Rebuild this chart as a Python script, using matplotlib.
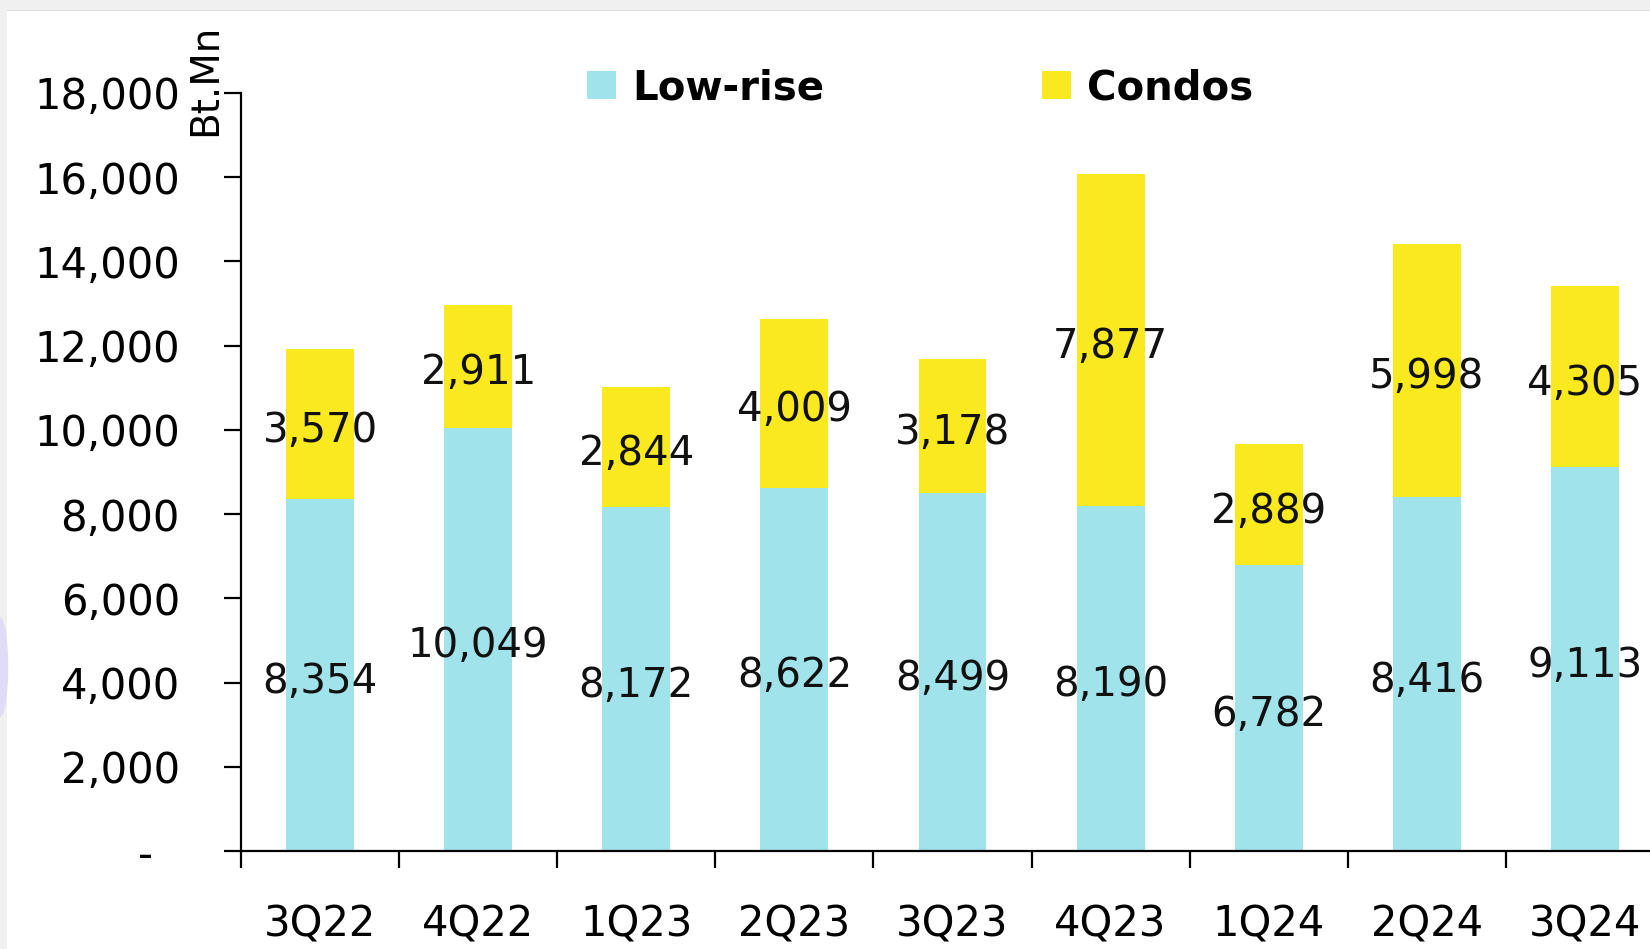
import matplotlib
matplotlib.use("Agg")
import matplotlib.pyplot as plt
from matplotlib.patches import Rectangle, Ellipse
from matplotlib.ticker import FuncFormatter, FixedLocator

# quarters and values (Bt.Mn)
quarters = ['3Q22', '4Q22', '1Q23', '2Q23', '3Q23', '4Q23', '1Q24', '2Q24', '3Q24']
low_rise = [8354, 10049, 8172, 8622, 8499, 8190, 6782, 8416, 9113]
condos = [3570, 2911, 2844, 4009, 3178, 7877, 2889, 5998, 4305]

LOW_COLOR = '#a0e3ea'
CONDO_COLOR = '#f9e91e'
FONT = 'DejaVu Sans'

fig = plt.figure(figsize=(16.5, 9.49), dpi=100)
fig.patch.set_facecolor('white')

# page background bits (gray frame at top/left, faint decoration)
fig.patches.append(Rectangle((0, 0.989), 1, 0.011, transform=fig.transFigure,
                             facecolor='#f0f0f0', edgecolor='none', zorder=1))
fig.patches.append(Rectangle((0, 0.988), 1, 0.0015, transform=fig.transFigure,
                             facecolor='#dcdcdc', edgecolor='none', zorder=1))
fig.patches.append(Rectangle((0, 0), 0.0042, 1, transform=fig.transFigure,
                             facecolor='#f0f0f0', edgecolor='none', zorder=1))
fig.patches.append(Ellipse((0.0, 0.297), 0.01, 0.105, transform=fig.transFigure,
                           facecolor='#e0dcf7', edgecolor='none', zorder=2))

# axes extends past the right edge (reference is cropped)
ax = fig.add_axes([241 / 1650, 98 / 949, 1423 / 1650, 758 / 949])
ax.set_facecolor('none')

x = list(range(len(quarters)))
width = 0.43
ax.bar(x, low_rise, width, color=LOW_COLOR, label='Low-rise', zorder=2)
ax.bar(x, condos, width, bottom=low_rise, color=CONDO_COLOR, label='Condos', zorder=2)

# value labels centred in each segment
for i in x:
    ax.annotate(f'{low_rise[i]:,}', (i, low_rise[i] / 2), xytext=(0, -5),
                textcoords='offset points', ha='center', va='center',
                fontsize=29, family=FONT, color='#111111', zorder=3)
    ax.annotate(f'{condos[i]:,}', (i, low_rise[i] + condos[i] / 2), xytext=(0, -5),
                textcoords='offset points', ha='center', va='center',
                fontsize=29, family=FONT, color='#111111', zorder=3)

ax.set_xlim(-0.5, 8.5)
ax.set_ylim(0, 18000)

for s in ['top', 'right']:
    ax.spines[s].set_visible(False)
for s in ['left', 'bottom']:
    ax.spines[s].set_linewidth(1.6)
    ax.spines[s].set_color('black')

ax.set_yticks(range(0, 18001, 2000))
ax.yaxis.set_major_formatter(FuncFormatter(lambda v, p: '-  ' if v == 0 else f'{int(v):,}'))
ax.tick_params(axis='y', direction='out', length=12, width=1.6, pad=32,
               labelsize=30)

ax.set_xticks(x)
ax.set_xticklabels(quarters)
ax.xaxis.set_minor_locator(FixedLocator([i - 0.5 for i in range(len(quarters) + 1)]))
ax.tick_params(axis='x', which='major', length=0, pad=38, labelsize=30)
ax.tick_params(axis='x', which='minor', direction='out', length=12, width=1.6)

for lbl in ax.get_xticklabels() + ax.get_yticklabels():
    lbl.set_family(FONT)

fig.text(205 / 1650, 1 - 80 / 949, 'Bt.Mn', rotation=90, ha='center', va='center',
         fontsize=28, family=FONT)

fig.legend(loc='center', bbox_to_anchor=(920 / 1650, 1 - 88 / 949), ncol=2,
           frameon=False, prop={'family': FONT, 'weight': 'bold', 'size': 29},
           handlelength=0.72, handleheight=0.72, handletextpad=0.4,
           columnspacing=5.4, borderpad=0, borderaxespad=0)

fig.savefig('out.png', dpi=100)
